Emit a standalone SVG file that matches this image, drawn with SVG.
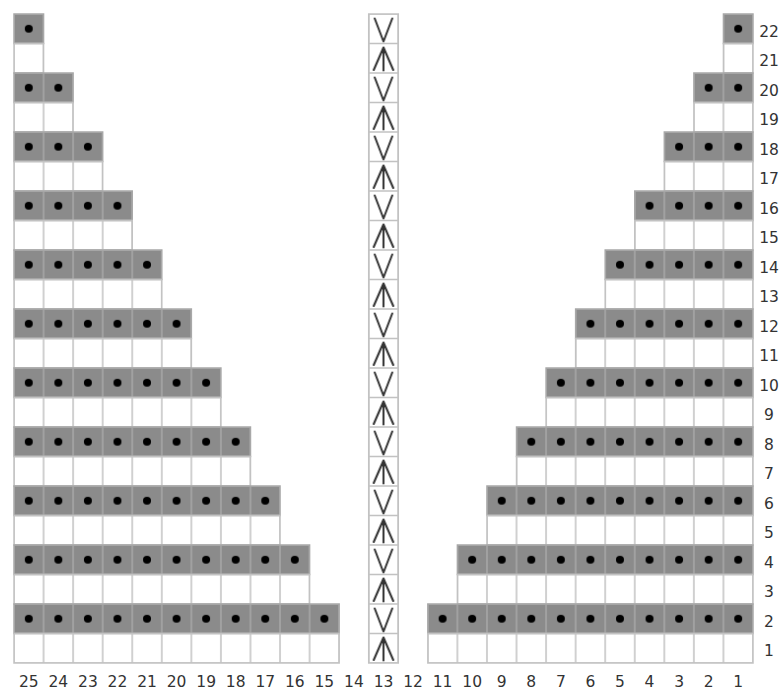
<svg xmlns="http://www.w3.org/2000/svg" width="782" height="692" viewBox="0 0 782 692">
  <style>
    .g { fill: url(#pGray); stroke: #a8a8a8; stroke-width: 1.5; }
    .w { fill: url(#pWhite); stroke: #c2c2c2; stroke-width: 1.5; }
    .num { font-family: "DejaVu Sans", Verdana, sans-serif; font-size: 15.5px; fill: #333; text-anchor: middle; }
    .sym { fill: none; stroke: #333; stroke-width: 2; stroke-linecap: round; stroke-linejoin: round; }
  </style>
  <defs>
    <pattern id="pGray" patternUnits="userSpaceOnUse" x="14" y="14" width="29.56" height="29.5">
      <rect width="29.56" height="29.5" fill="#8b8b8b"/>
      <path d="M0,0H29.56M0,29.5H29.56M0,0V29.5M29.56,0V29.5" stroke="#a8a8a8" stroke-width="1.5" fill="none"/>
      <circle cx="14.78" cy="14.75" r="4" fill="#000"/>
    </pattern>
    <pattern id="pWhite" patternUnits="userSpaceOnUse" x="14" y="14" width="29.56" height="29.5">
      <rect width="29.56" height="29.5" fill="#fff"/>
      <path d="M0,0H29.56M0,29.5H29.56M0,0V29.5M29.56,0V29.5" stroke="#c2c2c2" stroke-width="1.5" fill="none"/>
    </pattern>
    <pattern id="pMid" patternUnits="userSpaceOnUse" x="368.72" y="14" width="29.56" height="59">
      <rect width="29.56" height="59" fill="#fff"/>
      <path d="M0,0H29.56M0,29.5H29.56M0,59H29.56M0,0V59M29.56,0V59" stroke="#c2c2c2" stroke-width="1.5" fill="none"/>
      <path class="sym" d="M6,4.5L14.78,27.5L23.56,4.5"/>
      <path class="sym" d="M5,56L14.78,33.5L24.56,56M14.78,33.5V56.5"/>
      <path d="M14.78,32.5L12.2,39L17.36,39Z" fill="#333"/>
    </pattern>
  </defs>

  <g id="left-chart">
    <rect class="g" x="14" y="14" width="29.56" height="29.5"/>
    <rect class="w" x="14" y="43.5" width="29.56" height="29.5"/>
    <rect class="g" x="14" y="73" width="59.12" height="29.5"/>
    <rect class="w" x="14" y="102.5" width="59.12" height="29.5"/>
    <rect class="g" x="14" y="132" width="88.68" height="29.5"/>
    <rect class="w" x="14" y="161.5" width="88.68" height="29.5"/>
    <rect class="g" x="14" y="191" width="118.24" height="29.5"/>
    <rect class="w" x="14" y="220.5" width="118.24" height="29.5"/>
    <rect class="g" x="14" y="250" width="147.8" height="29.5"/>
    <rect class="w" x="14" y="279.5" width="147.8" height="29.5"/>
    <rect class="g" x="14" y="309" width="177.36" height="29.5"/>
    <rect class="w" x="14" y="338.5" width="177.36" height="29.5"/>
    <rect class="g" x="14" y="368" width="206.92" height="29.5"/>
    <rect class="w" x="14" y="397.5" width="206.92" height="29.5"/>
    <rect class="g" x="14" y="427" width="236.48" height="29.5"/>
    <rect class="w" x="14" y="456.5" width="236.48" height="29.5"/>
    <rect class="g" x="14" y="486" width="266.04" height="29.5"/>
    <rect class="w" x="14" y="515.5" width="266.04" height="29.5"/>
    <rect class="g" x="14" y="545" width="295.6" height="29.5"/>
    <rect class="w" x="14" y="574.5" width="295.6" height="29.5"/>
    <rect class="g" x="14" y="604" width="325.16" height="29.5"/>
    <rect class="w" x="14" y="633.5" width="325.16" height="29.5"/>
  </g>

  <g id="right-chart">
    <rect class="g" x="723.44" y="14" width="29.56" height="29.5"/>
    <rect class="w" x="723.44" y="43.5" width="29.56" height="29.5"/>
    <rect class="g" x="693.88" y="73" width="59.12" height="29.5"/>
    <rect class="w" x="693.88" y="102.5" width="59.12" height="29.5"/>
    <rect class="g" x="664.32" y="132" width="88.68" height="29.5"/>
    <rect class="w" x="664.32" y="161.5" width="88.68" height="29.5"/>
    <rect class="g" x="634.76" y="191" width="118.24" height="29.5"/>
    <rect class="w" x="634.76" y="220.5" width="118.24" height="29.5"/>
    <rect class="g" x="605.2" y="250" width="147.8" height="29.5"/>
    <rect class="w" x="605.2" y="279.5" width="147.8" height="29.5"/>
    <rect class="g" x="575.64" y="309" width="177.36" height="29.5"/>
    <rect class="w" x="575.64" y="338.5" width="177.36" height="29.5"/>
    <rect class="g" x="546.08" y="368" width="206.92" height="29.5"/>
    <rect class="w" x="546.08" y="397.5" width="206.92" height="29.5"/>
    <rect class="g" x="516.52" y="427" width="236.48" height="29.5"/>
    <rect class="w" x="516.52" y="456.5" width="236.48" height="29.5"/>
    <rect class="g" x="486.96" y="486" width="266.04" height="29.5"/>
    <rect class="w" x="486.96" y="515.5" width="266.04" height="29.5"/>
    <rect class="g" x="457.4" y="545" width="295.6" height="29.5"/>
    <rect class="w" x="457.4" y="574.5" width="295.6" height="29.5"/>
    <rect class="g" x="427.84" y="604" width="325.16" height="29.5"/>
    <rect class="w" x="427.84" y="633.5" width="325.16" height="29.5"/>
  </g>

  <g id="center-column">
    <rect x="368.72" y="14" width="29.56" height="649" fill="url(#pMid)" stroke="#c2c2c2" stroke-width="1.5"/>
  </g>

  <g id="column-numbers" class="num">
    <text x="28.78" y="687">25</text>
    <text x="58.34" y="687">24</text>
    <text x="87.9" y="687">23</text>
    <text x="117.46" y="687">22</text>
    <text x="147.02" y="687">21</text>
    <text x="176.58" y="687">20</text>
    <text x="206.14" y="687">19</text>
    <text x="235.7" y="687">18</text>
    <text x="265.26" y="687">17</text>
    <text x="294.82" y="687">16</text>
    <text x="324.38" y="687">15</text>
    <text x="353.94" y="687">14</text>
    <text x="383.5" y="687">13</text>
    <text x="413.06" y="687">12</text>
    <text x="442.62" y="687">11</text>
    <text x="472.18" y="687">10</text>
    <text x="501.74" y="687">9</text>
    <text x="531.3" y="687">8</text>
    <text x="560.86" y="687">7</text>
    <text x="590.42" y="687">6</text>
    <text x="619.98" y="687">5</text>
    <text x="649.54" y="687">4</text>
    <text x="679.1" y="687">3</text>
    <text x="708.66" y="687">2</text>
    <text x="738.22" y="687">1</text>
  </g>

  <g id="row-numbers" class="num">
    <text x="769" y="36.5">22</text>
    <text x="769" y="66">21</text>
    <text x="769" y="95.5">20</text>
    <text x="769" y="125">19</text>
    <text x="769" y="154.5">18</text>
    <text x="769" y="184">17</text>
    <text x="769" y="213.5">16</text>
    <text x="769" y="243">15</text>
    <text x="769" y="272.5">14</text>
    <text x="769" y="302">13</text>
    <text x="769" y="331.5">12</text>
    <text x="769" y="361">11</text>
    <text x="769" y="390.5">10</text>
    <text x="769" y="420">9</text>
    <text x="769" y="449.5">8</text>
    <text x="769" y="479">7</text>
    <text x="769" y="508.5">6</text>
    <text x="769" y="538">5</text>
    <text x="769" y="567.5">4</text>
    <text x="769" y="597">3</text>
    <text x="769" y="626.5">2</text>
    <text x="769" y="656">1</text>
  </g>
</svg>
